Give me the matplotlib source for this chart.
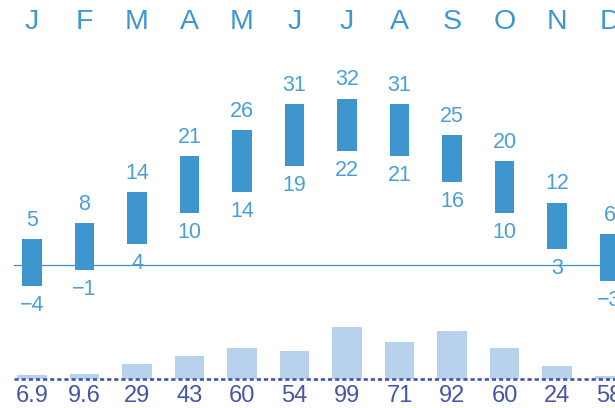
import matplotlib
matplotlib.use("Agg")
import matplotlib.pyplot as plt
import numpy as np

months = ["J", "F", "M", "A", "M", "J", "J", "A", "S", "O", "N", "D"]
t_max = [5, 8, 14, 21, 26, 31, 32, 31, 25, 20, 12, 6]
t_min = [-4, -1, 4, 10, 14, 19, 22, 21, 16, 10, 3, -3]
precip = [6.9, 9.6, 29, 43, 60, 54, 99, 71, 92, 60, 24, 5.8]
precip_labels = ["6.9", "9.6", "29", "43", "60", "54", "99", "71", "92", "60", "24", "58"]

W, H, DPI = 615, 408, 100
fig = plt.figure(figsize=(W / DPI, H / DPI), dpi=DPI)

bar_c = "#3d96cd"
txt_c = "#4aa0d6"
month_c = "#3c97d2"
pbar_c = "#b8d2ed"
ptxt_c = "#4656a6"

x = np.arange(len(months))
xlim = (-32 / 52.5, (W - 32) / 52.5)

# temperature axes (full figure)
ax = fig.add_axes([0, 0, 1, 1])
ax.set_xlim(*xlim)
ax.set_ylim(-(H - 265) / 5.2, 265 / 5.2)
ax.axis("off")

ax.plot([-0.34, xlim[1]], [0, 0], color="#3d8fc6", lw=0.9, zorder=1)
heights = [hi - lo for hi, lo in zip(t_max, t_min)]
ax.bar(x, heights, bottom=t_min, width=0.37, color=bar_c, zorder=2)

def fmt(v):
    return f"\u2212{abs(v)}" if v < 0 else f"{v}"

for xi, hi, lo in zip(x, t_max, t_min):
    ax.annotate(fmt(hi), (xi, hi), xytext=(0, 13.5), textcoords="offset points",
                ha="center", va="center", fontsize=15.5, color=txt_c,
                family=["Liberation Sans", "DejaVu Sans"])
    ax.annotate(fmt(lo), (xi, lo), xytext=(0, -14), textcoords="offset points",
                ha="center", va="center", fontsize=15.5, color=txt_c,
                family=["Liberation Sans", "DejaVu Sans"])

for xi, m in zip(x, months):
    ax.text(xi, 1 - 22 / H, m, transform=ax.get_xaxis_transform(),
            ha="center", va="center", fontsize=20.5, color=month_c,
            family=["Liberation Sans", "DejaVu Sans"])

# precipitation axes (full figure)
ax2 = fig.add_axes([0, 0, 1, 1])
ax2.set_xlim(*xlim)
ax2.set_ylim(-(H - 379) / 0.525, 379 / 0.525)
ax2.axis("off")
ax2.patch.set_alpha(0)
ax2.bar(x, precip, width=0.57, color=pbar_c, zorder=1)
ax2.plot([-0.35, xlim[1]], [0, 0], color="#4355a5", lw=1.9,
         linestyle=(0, (1.6, 1.1)), zorder=2)
for xi, lab in zip(x, precip_labels):
    ax2.annotate(lab, (xi, 0), xytext=(0, -12), textcoords="offset points",
                 ha="center", va="center", fontsize=17, color=ptxt_c,
                 family=["Liberation Sans Narrow", "Liberation Sans", "DejaVu Sans"])

fig.savefig("out.png", dpi=DPI)
